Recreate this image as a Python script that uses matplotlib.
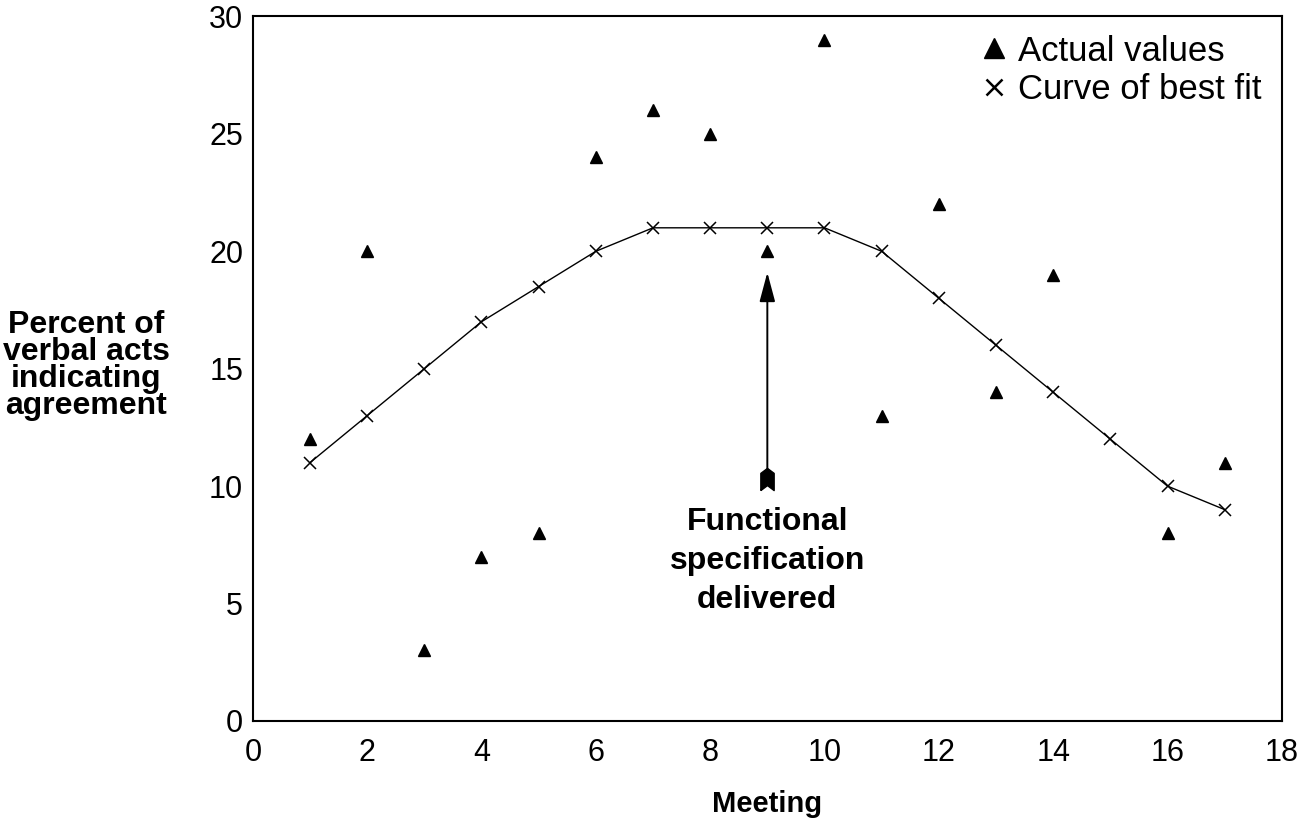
import matplotlib.pyplot as plt
from matplotlib.lines import Line2D
from matplotlib.path import Path

plt.rcParams['font.family'] = ['Liberation Sans', 'DejaVu Sans']

# actual values (meeting 15 has no point)
actual_x = [1, 2, 3, 4, 5, 6, 7, 8, 9, 10, 11, 12, 13, 14, 16, 17]
actual_y = [12, 20, 3, 7, 8, 24, 26, 25, 20, 29, 13, 22, 14, 19, 8, 11]

# curve of best fit
fit_x = list(range(1, 18))
fit_y = [11, 13, 15, 17, 18.5, 20, 21, 21, 21, 21, 20, 18, 16, 14, 12, 10, 9]

# functional specification delivered at meeting 9
spec_x = 9
arrow_from, arrow_to = 10.3, 19.1

fig = plt.figure(figsize=(13.1, 8.23), dpi=100)
ax = fig.add_axes([0.193, 0.124, 0.7855, 0.856])

ax.plot(fit_x, fit_y, color='black', lw=1.0, marker='x', ms=9, mew=1.1)
ax.plot(actual_x, actual_y, ls='none', marker='^', color='black', ms=8.5)

# arrow with a notched tail
ax.annotate('', xy=(spec_x, arrow_to), xytext=(spec_x, arrow_from),
            arrowprops=dict(arrowstyle='-|>,head_length=0.9,head_width=0.24',
                            mutation_scale=20, color='black', lw=1.4,
                            shrinkA=0, shrinkB=0))
tail = Path([(-0.6, -1), (0, -0.55), (0.6, -1), (0.6, 0.55), (0, 1), (-0.6, 0.55), (-0.6, -1)])
ax.plot([spec_x], [arrow_from], marker=tail, color='black', ms=16, ls='none')
ax.text(spec_x, 9.1, 'Functional\nspecification\ndelivered', ha='center', va='top',
        fontsize=23, fontweight='bold', linespacing=1.38)

ax.set_xlim(0, 18)
ax.set_ylim(0, 30)
ax.set_xticks(range(0, 19, 2))
ax.set_yticks(range(0, 31, 5))
ax.tick_params(length=0, labelsize=22)
ax.tick_params(axis='x', pad=12)
ax.tick_params(axis='y', pad=7)
for s in ax.spines.values():
    s.set_linewidth(1.5)

ax.set_xlabel('Meeting', fontsize=21, fontweight='bold', labelpad=16)
fig.text(0.066, 0.556, 'Percent of\nverbal acts\nindicating\nagreement', ha='center', va='center',
         fontsize=23, fontweight='bold', linespacing=0.86)

handles = [Line2D([], [], ls='none', marker='^', color='black', ms=15),
           Line2D([], [], ls='none', marker='x', color='black', ms=11, mew=1.8)]
ax.legend(handles, ['Actual values', 'Curve of best fit'], loc='upper left',
          bbox_to_anchor=(0.69, 0.999), frameon=False, borderpad=0,
          fontsize=25, handlelength=0.8, handletextpad=0.3, labelspacing=0.15)

fig.savefig('out.png', dpi=100)
